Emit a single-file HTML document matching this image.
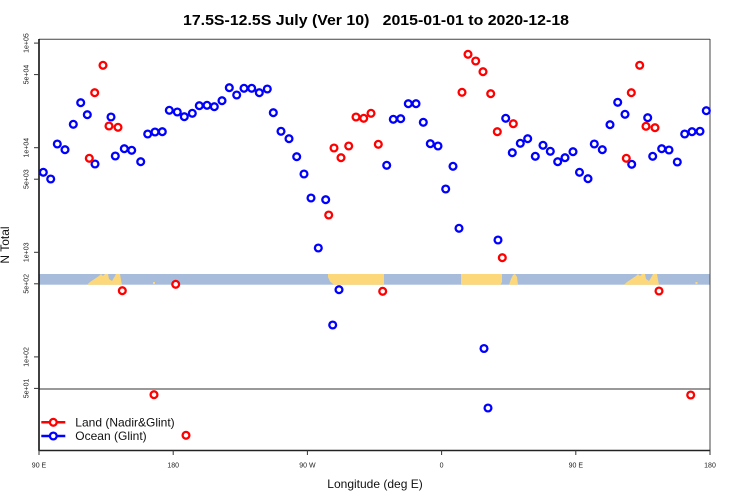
<!DOCTYPE html>
<html><head><meta charset="utf-8"><style>
html,body{margin:0;padding:0;background:#fff;}
svg{display:block;font-family:"Liberation Sans",sans-serif;}
</style></head><body>
<svg width="750" height="500" viewBox="0 0 750 500" xmlns="http://www.w3.org/2000/svg">
<rect width="750" height="500" fill="#fff"/>
<!-- title -->
<text x="376" y="25" font-size="15" font-weight="bold" text-anchor="middle" textLength="386" lengthAdjust="spacingAndGlyphs" xml:space="preserve">17.5S-12.5S July (Ver 10)   2015-01-01 to 2020-12-18</text>
<!-- band -->
<rect x="39" y="274" width="671" height="10.7" fill="#a7bcda"/>
<g fill="#fdd87a">
<polygon points="87,284.7 90,282 93,280 96,278 99,276 101,274 103,276 105,274 108,274 109,279 112,281 115,276 116,274 120,274 121,280 122,284.7"/>
<polygon points="624,284.7 627,282 630,280 633,278 636,276 638,274 640,276 642,274 645,274 646,279 649,281 652,276 653,274 657,274 658,280 659,284.7"/>
<rect x="153" y="282" width="2" height="2"/>
<rect x="695.5" y="282" width="2" height="2"/>
<polygon points="328,274 384,274 384,284.7 334,284.7 330,281.5 328,277"/>
<polygon points="461,274 502,274 502,282 500.5,284.7 461,284.7"/>
<polygon points="509,284.7 511,279 513,275 515,274 517,277 518,284.7"/>
</g>
<!-- box -->
<line x1="39" y1="39.3" x2="710" y2="39.3" stroke="#444" stroke-width="1"/>
<line x1="710" y1="39" x2="710" y2="450.5" stroke="#444" stroke-width="1"/>
<line x1="39" y1="389" x2="710" y2="389" stroke="#333" stroke-width="1.1"/>
<line x1="39" y1="39" x2="39" y2="451" stroke="#111" stroke-width="1.6"/>
<line x1="38.5" y1="450.5" x2="710.5" y2="450.5" stroke="#222" stroke-width="1.6"/>
<!-- y ticks -->
<g stroke="#333" stroke-width="1">
<line x1="34" y1="43.1" x2="39" y2="43.1"/>
<line x1="34" y1="74.6" x2="39" y2="74.6"/>
<line x1="34" y1="147.7" x2="39" y2="147.7"/>
<line x1="34" y1="179.2" x2="39" y2="179.2"/>
<line x1="34" y1="252.3" x2="39" y2="252.3"/>
<line x1="34" y1="283.8" x2="39" y2="283.8"/>
<line x1="34" y1="356.9" x2="39" y2="356.9"/>
<line x1="34" y1="388.4" x2="39" y2="388.4"/>
</g>
<g font-size="7" fill="#222" text-anchor="middle">
<text transform="translate(28.5,43.1) rotate(-90)">1e+05</text>
<text transform="translate(28.5,74.6) rotate(-90)">5e+04</text>
<text transform="translate(28.5,147.7) rotate(-90)">1e+04</text>
<text transform="translate(28.5,179.2) rotate(-90)">5e+03</text>
<text transform="translate(28.5,252.3) rotate(-90)">1e+03</text>
<text transform="translate(28.5,283.8) rotate(-90)">5e+02</text>
<text transform="translate(28.5,356.9) rotate(-90)">1e+02</text>
<text transform="translate(28.5,388.4) rotate(-90)">5e+01</text>
</g>
<!-- x ticks -->
<g stroke="#333" stroke-width="1">
<line x1="39" y1="450" x2="39" y2="455"/>
<line x1="173.2" y1="450" x2="173.2" y2="455"/>
<line x1="307.4" y1="450" x2="307.4" y2="455"/>
<line x1="441.6" y1="450" x2="441.6" y2="455"/>
<line x1="575.8" y1="450" x2="575.8" y2="455"/>
<line x1="710" y1="450" x2="710" y2="455"/>
</g>
<g font-size="7" fill="#222" text-anchor="middle">
<text x="39" y="467.5">90 E</text>
<text x="173.2" y="467.5">180</text>
<text x="307.4" y="467.5">90 W</text>
<text x="441.6" y="467.5">0</text>
<text x="575.8" y="467.5">90 E</text>
<text x="710" y="467.5">180</text>
</g>
<text x="375" y="488" font-size="12" text-anchor="middle" fill="#111">Longitude (deg E)</text>
<text transform="translate(9,245) rotate(-90)" font-size="12" text-anchor="middle" fill="#111">N Total</text>
<!-- blue points -->
<g fill="#fff" stroke="#0000ff" stroke-width="2.3">
<circle cx="43.3" cy="172.3" r="3.4"/><circle cx="50.7" cy="179" r="3.4"/><circle cx="57.3" cy="144" r="3.4"/><circle cx="65" cy="149.7" r="3.4"/>
<circle cx="73.3" cy="124.3" r="3.4"/><circle cx="80.7" cy="102.7" r="3.4"/><circle cx="87.3" cy="114.7" r="3.4"/><circle cx="95" cy="164" r="3.4"/>
<circle cx="111" cy="117" r="3.4"/><circle cx="115.3" cy="156" r="3.4"/><circle cx="124.3" cy="148.7" r="3.4"/><circle cx="131.7" cy="150.3" r="3.4"/>
<circle cx="140.7" cy="161.7" r="3.4"/><circle cx="147.7" cy="134" r="3.4"/><circle cx="155" cy="132" r="3.4"/><circle cx="162.3" cy="131.7" r="3.4"/>
<circle cx="169.3" cy="110.3" r="3.4"/><circle cx="177.3" cy="112" r="3.4"/><circle cx="184.3" cy="116.7" r="3.4"/><circle cx="192.3" cy="113.3" r="3.4"/>
<circle cx="199.3" cy="105.7" r="3.4"/><circle cx="207" cy="105.3" r="3.4"/><circle cx="214.3" cy="106.7" r="3.4"/><circle cx="222" cy="100.7" r="3.4"/>
<circle cx="229.3" cy="87.7" r="3.4"/><circle cx="236.7" cy="95" r="3.4"/><circle cx="244" cy="88.3" r="3.4"/><circle cx="251.7" cy="88.3" r="3.4"/>
<circle cx="259.3" cy="92.7" r="3.4"/><circle cx="267.3" cy="89" r="3.4"/><circle cx="273.3" cy="112.7" r="3.4"/><circle cx="281" cy="131.3" r="3.4"/>
<circle cx="289" cy="138.7" r="3.4"/><circle cx="296.7" cy="156.7" r="3.4"/><circle cx="304" cy="174" r="3.4"/><circle cx="311" cy="198" r="3.4"/>
<circle cx="318.3" cy="248" r="3.4"/><circle cx="325.7" cy="199.7" r="3.4"/><circle cx="332.7" cy="325" r="3.4"/><circle cx="339" cy="289.7" r="3.4"/>
<circle cx="386.7" cy="165.3" r="3.4"/><circle cx="393.3" cy="119.3" r="3.4"/><circle cx="400.7" cy="118.7" r="3.4"/><circle cx="408.3" cy="103.7" r="3.4"/>
<circle cx="416" cy="103.7" r="3.4"/><circle cx="423.3" cy="122.3" r="3.4"/><circle cx="430.3" cy="143.7" r="3.4"/><circle cx="438" cy="146" r="3.4"/>
<circle cx="445.7" cy="189" r="3.4"/><circle cx="453" cy="166.3" r="3.4"/><circle cx="459" cy="228.3" r="3.4"/><circle cx="484" cy="348.5" r="3.4"/>
<circle cx="488" cy="408" r="3.4"/><circle cx="498" cy="240" r="3.4"/><circle cx="505.7" cy="118.3" r="3.4"/><circle cx="512.3" cy="152.7" r="3.4"/>
<circle cx="520.3" cy="143.3" r="3.4"/><circle cx="527.7" cy="138.7" r="3.4"/><circle cx="535.3" cy="156.3" r="3.4"/><circle cx="543" cy="145.3" r="3.4"/>
<circle cx="550.3" cy="151.3" r="3.4"/><circle cx="557.7" cy="161.7" r="3.4"/><circle cx="565" cy="157.7" r="3.4"/><circle cx="573" cy="151.7" r="3.4"/>
<circle cx="579.5" cy="172.3" r="3.4"/><circle cx="588" cy="178.7" r="3.4"/><circle cx="594.3" cy="144" r="3.4"/><circle cx="602.3" cy="149.7" r="3.4"/>
<circle cx="610" cy="124.7" r="3.4"/><circle cx="617.7" cy="102.3" r="3.4"/><circle cx="625" cy="114.3" r="3.4"/><circle cx="631.7" cy="164.3" r="3.4"/>
<circle cx="647.7" cy="117.7" r="3.4"/><circle cx="652.7" cy="156.3" r="3.4"/><circle cx="661.7" cy="148.7" r="3.4"/><circle cx="669" cy="150" r="3.4"/>
<circle cx="677.3" cy="162" r="3.4"/><circle cx="684.7" cy="134" r="3.4"/><circle cx="692" cy="131.7" r="3.4"/><circle cx="700" cy="131.3" r="3.4"/>
<circle cx="706.3" cy="110.7" r="3.4"/>
</g>
<!-- red points -->
<g fill="#fff" stroke="#ff0000" stroke-width="2.3">
<circle cx="89.3" cy="158.3" r="3.4"/><circle cx="94.7" cy="92.7" r="3.4"/><circle cx="103" cy="65.3" r="3.4"/><circle cx="109" cy="126" r="3.4"/>
<circle cx="118" cy="127.3" r="3.4"/><circle cx="122.3" cy="290.7" r="3.4"/><circle cx="154" cy="394.7" r="3.4"/><circle cx="175.7" cy="284.3" r="3.4"/>
<circle cx="186" cy="435.3" r="3.4"/><circle cx="328.7" cy="215" r="3.4"/><circle cx="334" cy="148" r="3.4"/><circle cx="341" cy="157.7" r="3.4"/>
<circle cx="348.7" cy="146" r="3.4"/><circle cx="356" cy="117" r="3.4"/><circle cx="363.7" cy="118.3" r="3.4"/><circle cx="371" cy="113.3" r="3.4"/>
<circle cx="378.3" cy="144.3" r="3.4"/><circle cx="382.7" cy="291.3" r="3.4"/><circle cx="462" cy="92.3" r="3.4"/><circle cx="468" cy="54.3" r="3.4"/>
<circle cx="475.7" cy="61" r="3.4"/><circle cx="483" cy="71.7" r="3.4"/><circle cx="490.7" cy="93.7" r="3.4"/><circle cx="497.3" cy="131.7" r="3.4"/>
<circle cx="502.3" cy="257.7" r="3.4"/><circle cx="513.3" cy="123.7" r="3.4"/><circle cx="626.3" cy="158.3" r="3.4"/><circle cx="631.3" cy="92.7" r="3.4"/>
<circle cx="639.7" cy="65.3" r="3.4"/><circle cx="646" cy="126.3" r="3.4"/><circle cx="655" cy="127.7" r="3.4"/><circle cx="659" cy="291" r="3.4"/>
<circle cx="690.7" cy="395" r="3.4"/>
</g>
<!-- legend -->
<line x1="41.3" y1="422.3" x2="65.3" y2="422.3" stroke="#ff0000" stroke-width="2.5"/>
<circle cx="53.3" cy="422.3" r="3.4" fill="#fff" stroke="#ff0000" stroke-width="2.3"/>
<line x1="41.3" y1="436" x2="65.3" y2="436" stroke="#0000ff" stroke-width="2.5"/>
<circle cx="53.3" cy="436" r="3.4" fill="#fff" stroke="#0000ff" stroke-width="2.3"/>
<text x="75.3" y="426.5" font-size="12" fill="#111">Land (Nadir&amp;Glint)</text>
<text x="75.3" y="440.2" font-size="12" fill="#111">Ocean (Glint)</text>
</svg>
</body></html>
